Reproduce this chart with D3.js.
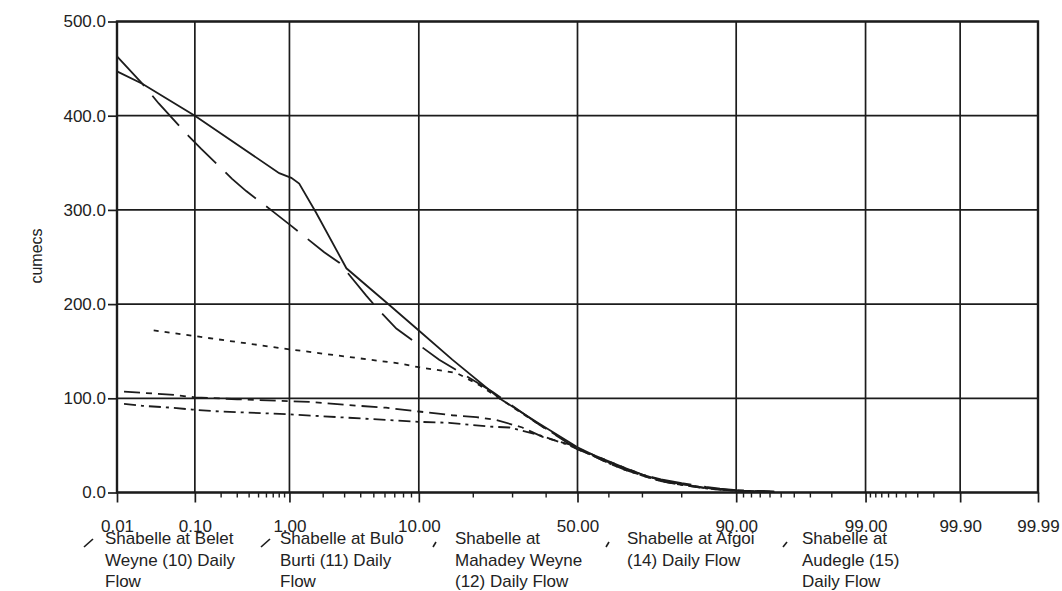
<!DOCTYPE html>
<html>
<head>
<meta charset="utf-8">
<script src="https://cdn.jsdelivr.net/npm/d3@7"></script>
<style>
  html, body { margin: 0; padding: 0; background: #fff; }
  svg { display: block; }
  text { font-family: "Liberation Sans", Arial, sans-serif; fill: #222; }
</style>
</head>
<body>
<svg id="chart" width="1062" height="591"></svg>
<script>
// Percent of time a flow is equalled or exceeded (probability axis)
const probTicks = [0.01, 0.1, 1, 10, 50, 90, 99, 99.9, 99.99];
const probMinorTicks = [
  0.2, 0.3, 0.4, 0.5, 0.6, 0.7, 0.8, 0.9,
  2, 3, 4, 5, 6, 7, 8, 9,
  20, 30, 40,
  60, 70, 80,
  91, 92, 93, 94, 95, 96, 97, 98,
  99.1, 99.2, 99.3, 99.4, 99.5, 99.6, 99.7, 99.8
];
const flowTicks = [0, 100, 200, 300, 400, 500];

// Flow duration curves: [percent exceeded, flow in cumecs]
const beletWeyne = [
  [0.01, 447], [0.022, 434], [0.10, 400], [0.80, 339], [1.04, 334], [1.23, 328],
  [1.74, 297], [3.10, 238], [6.43, 199], [10, 172], [15.6, 141], [26.4, 100],
  [37.9, 73], [50, 48], [55, 40], [60, 33], [65, 26], [70, 19], [75, 13], [80, 9],
  [85, 5], [87.5, 3.5], [90, 2], [94.4, 1]
];
const buloBurti = [
  [0.01, 463], [0.022, 434], [0.036, 413], [0.085, 378], [0.118, 365], [0.264, 333],
  [0.373, 320], [0.683, 299], [1.04, 283], [2.04, 255], [2.72, 244], [4.40, 209],
  [5.47, 193], [7.17, 174], [8.72, 164], [13.2, 141], [24.6, 107], [37.9, 72],
  [50, 46], [55, 39], [60, 32], [65, 25], [70, 19], [75, 14], [80, 10], [85, 6],
  [87.5, 4], [90, 2.5], [94.4, 1]
];
const mahadeyWeyne = [
  [0.031, 172], [0.10, 166], [1.0, 152], [7.5, 137], [10, 133], [16.4, 127],
  [21.4, 114], [26.4, 100], [37.9, 72], [50, 47], [55, 40], [60, 33], [65, 26],
  [70, 19], [75, 13], [80, 9], [85, 5], [87.5, 3], [90, 2], [93, 1]
];
const afgoi = [
  [0.0125, 107], [0.05, 104], [0.10, 101], [0.3, 99], [1.0, 97], [1.61, 96],
  [3.9, 92], [6.1, 90], [10, 86], [15.6, 82], [20.7, 80], [25.6, 77], [32.8, 69],
  [38.9, 59], [47.4, 51], [55, 39], [60, 31], [65, 24], [70, 18], [75, 12],
  [80, 8], [85, 4.5], [87.5, 3], [90, 2], [94, 1]
];
const audegle = [
  [0.0125, 94], [0.022, 92], [0.053, 90], [0.093, 88], [0.19, 86], [0.60, 84],
  [1.0, 83], [10, 75], [15, 74], [23.8, 70], [29.1, 69], [37.9, 61], [47.4, 50],
  [50, 46], [55, 39], [60, 31], [65, 24], [70, 18], [75, 12], [80, 8], [85, 4.5],
  [87.5, 3], [90, 2], [93.5, 1]
];

const seriesLabels = [
  ["Shabelle at Belet", "Weyne (10) Daily", "Flow"],
  ["Shabelle at Bulo", "Burti (11) Daily", "Flow"],
  ["Shabelle at", "Mahadey Weyne", "(12) Daily Flow"],
  ["Shabelle at Afgoi", "(14) Daily Flow"],
  ["Shabelle at", "Audegle (15)", "Daily Flow"]
];
const seriesData = [beletWeyne, buloBurti, mahadeyWeyne, afgoi, audegle];

// Line patterns for each station
const dashStyles = ["none", "40,13", "5,6", "16,6,6,6", "12,5,3,5"];
// Legend sample strokes: [x0, y0, x1, y1]
const legendSample = [[84, 547, 93, 539], [261, 547, 270, 539], [433, 547, 436, 542], [606, 547, 609, 542], [783, 547, 787, 542]];
const legendTextX = [105, 280, 455, 627, 802];

// Inverse of the standard normal CDF (Acklam's rational approximation)
function probit(p) {
  const a = [-3.969683028665376e+01, 2.209460984245205e+02, -2.759285104469687e+02,
             1.383577518672690e+02, -3.066479806614716e+01, 2.506628277459239e+00];
  const b = [-5.447609879822406e+01, 1.615858368580409e+02, -1.556989798598866e+02,
             6.680131188771972e+01, -1.328068155288572e+01];
  const c = [-7.784894002430293e-03, -3.223964580411365e-01, -2.400758277161838e+00,
             -2.549732539343734e+00, 4.374664141464968e+00, 2.938163982698783e+00];
  const d = [7.784695709041462e-03, 3.224671290700398e-01, 2.445134137142996e+00,
             3.754408661907416e+00];
  const pl = 0.02425, ph = 1 - pl;
  let q, r;
  if (p < pl) {
    q = Math.sqrt(-2 * Math.log(p));
    return (((((c[0]*q + c[1])*q + c[2])*q + c[3])*q + c[4])*q + c[5]) /
           ((((d[0]*q + d[1])*q + d[2])*q + d[3])*q + 1);
  }
  if (p <= ph) {
    q = p - 0.5; r = q * q;
    return (((((a[0]*r + a[1])*r + a[2])*r + a[3])*r + a[4])*r + a[5]) * q /
           (((((b[0]*r + b[1])*r + b[2])*r + b[3])*r + b[4])*r + 1);
  }
  q = Math.sqrt(-2 * Math.log(1 - p));
  return -(((((c[0]*q + c[1])*q + c[2])*q + c[3])*q + c[4])*q + c[5]) /
          ((((d[0]*q + d[1])*q + d[2])*q + d[3])*q + 1);
}

const plot = { left: 117, right: 1038, top: 21.5, bottom: 492.5 };

// Normal-probability scale built on a linear scale of z-scores
const zScale = d3.scaleLinear()
  .domain([probit(0.0001), probit(0.9999)])
  .range([plot.left, plot.right]);
function x(p) { return zScale(probit(p / 100)); }
x.domain = () => [0.01, 99.99];
x.range = () => zScale.range();
x.copy = () => x;

const y = d3.scaleLinear().domain([0, 500]).range([plot.bottom, plot.top]);

const svg = d3.select("#chart");
svg.append("rect").attr("width", 1062).attr("height", 591).attr("fill", "#fff");

const ink = "#1c1c1c";

// Grid
const grid = svg.append("g").attr("stroke", ink).attr("stroke-width", 1.7);
grid.selectAll("line.v").data(probTicks).join("line")
  .attr("class", "v")
  .attr("x1", d => x(d)).attr("x2", d => x(d))
  .attr("y1", plot.top).attr("y2", plot.bottom);
grid.selectAll("line.h").data(flowTicks).join("line")
  .attr("class", "h")
  .attr("x1", plot.left).attr("x2", plot.right)
  .attr("y1", d => y(d)).attr("y2", d => y(d));

// Frame
svg.append("rect")
  .attr("x", plot.left).attr("y", plot.top)
  .attr("width", plot.right - plot.left).attr("height", plot.bottom - plot.top)
  .attr("fill", "none").attr("stroke", ink).attr("stroke-width", 2.4);

// Minor ticks on the probability axis
svg.append("g").attr("stroke", ink).attr("stroke-width", 1.4)
  .selectAll("line").data(probMinorTicks).join("line")
  .attr("x1", d => x(d)).attr("x2", d => x(d))
  .attr("y1", plot.bottom).attr("y2", plot.bottom + 5);

// X axis
const xAxis = svg.append("g")
  .attr("transform", `translate(0,${plot.bottom})`)
  .call(d3.axisBottom(x).tickValues(probTicks).tickFormat(d3.format(".2f"))
    .tickSize(10).tickPadding(17));
xAxis.select(".domain").remove();
xAxis.selectAll(".tick line").attr("stroke", ink).attr("stroke-width", 1.7);
xAxis.selectAll(".tick text").attr("font-size", 17).attr("fill", "#222")
  .attr("font-family", "'Liberation Sans', Arial, sans-serif");

// Y axis
const yAxis = svg.append("g")
  .attr("transform", `translate(${plot.left},0)`)
  .call(d3.axisLeft(y).tickValues(flowTicks).tickFormat(d3.format(".1f"))
    .tickSize(9).tickPadding(2));
yAxis.select(".domain").remove();
yAxis.selectAll(".tick line").attr("stroke", ink).attr("stroke-width", 1.7);
yAxis.selectAll(".tick text").attr("font-size", 17).attr("fill", "#222")
  .attr("font-family", "'Liberation Sans', Arial, sans-serif");

// Y axis title
svg.append("text")
  .attr("transform", "translate(38,256) rotate(-90)")
  .attr("text-anchor", "middle")
  .attr("dominant-baseline", "middle")
  .attr("font-size", 16)
  .text("cumecs");

// Flow duration curves
const line = d3.line().x(d => x(d[0])).y(d => y(d[1]));
svg.append("g").attr("fill", "none").attr("stroke", ink).attr("stroke-width", 1.8)
  .selectAll("path").data(seriesData).join("path")
  .attr("d", line)
  .attr("stroke-dasharray", (d, i) => dashStyles[i]);

// Legend
const legend = svg.append("g");
seriesLabels.forEach((lines, i) => {
  const s = legendSample[i];
  legend.append("line")
    .attr("x1", s[0]).attr("y1", s[1]).attr("x2", s[2]).attr("y2", s[3])
    .attr("stroke", ink).attr("stroke-width", 1.6);
  const t = legend.append("text").attr("font-size", 17);
  lines.forEach((str, j) => {
    t.append("tspan").attr("x", legendTextX[i]).attr("y", 544 + j * 21.5).text(str);
  });
});
</script>
</body>
</html>
